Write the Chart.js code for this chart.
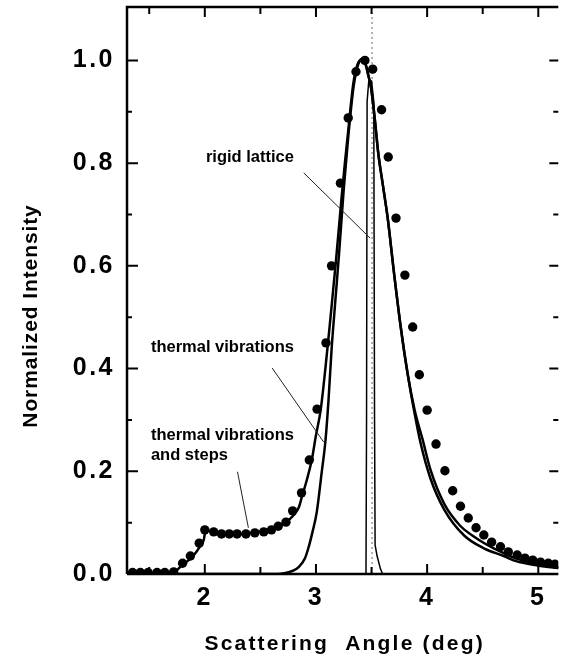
<!DOCTYPE html>
<html>
<head>
<meta charset="utf-8">
<style>
html,body{margin:0;padding:0;background:#fff;}
canvas{display:block;}
</style>
<script src="https://cdn.jsdelivr.net/npm/chart.js@4.4.1/dist/chart.umd.min.js"></script>
</head>
<body>
<canvas id="c" width="563" height="665"></canvas>
<script>
// ---- measured data (Scattering Angle in deg, Normalized Intensity) ----
const dotX = [1.35,1.42,1.49,1.57,1.64,1.72,1.80,1.87,1.95,2.00,2.08,2.15,2.22,2.29,2.37,2.45,2.53,2.60,2.66,2.73,2.79,2.87,2.94,3.01,3.09,3.14,3.22,3.29,3.36,3.44,3.51,3.59,3.65,3.72,3.80,3.87,3.93,4.00,4.08,4.16,4.23,4.30,4.37,4.44,4.51,4.58,4.66,4.73,4.81,4.88,4.95,5.02,5.09,5.15];
const dotY = [0.003,0.003,0.003,0.003,0.003,0.004,0.021,0.035,0.060,0.086,0.082,0.078,0.078,0.078,0.078,0.080,0.082,0.086,0.093,0.101,0.123,0.158,0.222,0.321,0.450,0.600,0.761,0.888,0.978,1.000,0.983,0.904,0.812,0.693,0.582,0.481,0.388,0.319,0.253,0.201,0.162,0.132,0.109,0.090,0.076,0.062,0.053,0.043,0.037,0.031,0.027,0.023,0.021,0.019];

// thermal vibrations and steps
const tvsX = [1.30,1.70,1.74,1.80,1.866,1.92,1.96,1.99,2.000,2.010,2.06,2.134,2.25,2.374,2.48,2.579,2.66,2.73,2.80,2.846,2.873,2.92,2.962,3.00,3.042,3.086,3.131,3.18,3.229,3.26,3.291,3.336,3.37,3.42,3.45,3.47,3.496,3.532,3.56,3.60,3.647,3.70,3.763,3.826,3.888,3.959,4.03,4.155,4.297,4.40,4.538,4.627,4.778,4.956,5.161,5.20];
const tvsY = [0.002,0.002,0.006,0.018,0.029,0.042,0.055,0.066,0.078,0.085,0.083,0.080,0.078,0.079,0.082,0.088,0.094,0.101,0.115,0.130,0.150,0.185,0.222,0.270,0.319,0.403,0.500,0.610,0.730,0.800,0.865,0.955,0.990,1.003,0.990,0.972,0.946,0.880,0.820,0.760,0.690,0.590,0.480,0.388,0.319,0.262,0.203,0.136,0.094,0.076,0.057,0.047,0.032,0.021,0.014,0.013];

// thermal vibrations
const tvX = [1.30,2.60,2.70,2.76,2.80,2.846,2.90,2.935,2.97,3.006,3.051,3.086,3.113,3.140,3.175,3.21,3.25,3.29,3.336,3.37,3.42,3.45,3.47,3.496,3.532,3.56,3.60,3.647,3.70,3.763,3.826,3.888,3.941,4.03,4.155,4.333,4.511,4.689,4.80,4.983,5.161,5.20];
const tvY = [0.000,0.000,0.001,0.004,0.007,0.014,0.030,0.053,0.083,0.119,0.197,0.261,0.339,0.436,0.534,0.630,0.750,0.850,0.945,0.985,1.003,0.990,0.972,0.946,0.880,0.820,0.760,0.690,0.590,0.480,0.388,0.312,0.255,0.186,0.125,0.075,0.050,0.035,0.025,0.017,0.012,0.011];

// rigid lattice
const rlX = [1.30,3.45,3.455,3.46,3.475,3.50,3.52,3.527,3.532,3.55,3.58,3.60,5.20];
const rlY = [0.000,0.000,0.300,0.920,0.960,0.960,0.920,0.300,0.056,0.035,0.010,0.000,0.000];

// axis ticks
const xTickValues = [2,3,4,5];
const xMinorTicks = [1.5,2.5,3.5,4.5];
const yTickValues = [0,0.2,0.4,0.6,0.8,1.0];
const yMinorTicks = [0.1,0.3,0.5,0.7,0.9];
const refLineX = 3.5;

const xTitle = 'Scattering  Angle (deg)';
const yTitle = 'Normalized Intensity';
const labels = [
  {text:'rigid lattice', x:2.01, y:0.803},
  {text:'thermal vibrations', x:1.515, y:0.432},
  {text:'thermal vibrations', x:1.515, y:0.261},
  {text:'and steps', x:1.515, y:0.222}
];
const leaders = [
  [2.890,0.781,3.487,0.654],
  [2.606,0.401,3.069,0.257],
  [2.294,0.199,2.392,0.090]
];

const zip = (xs,ys) => xs.map((v,i)=>({x:v,y:ys[i]}));
const FONT = "'Liberation Sans', Arial, Helvetica, sans-serif";

const framePlugin = {
  id:'frame',
  beforeDraw(chart){ chart.ctx.letterSpacing = '2.5px'; },
  beforeDatasetsDraw(chart){
    const {ctx, chartArea:a, scales:{x}} = chart;
    const px = x.getPixelForValue(refLineX);
    ctx.save();
    ctx.strokeStyle = '#666'; ctx.lineWidth = 1; ctx.setLineDash([2,3]);
    ctx.beginPath(); ctx.moveTo(px+0.5,a.top); ctx.lineTo(px+0.5,a.bottom); ctx.stroke();
    ctx.restore();
  },
  afterDraw(chart){
    const {ctx, chartArea:a, scales:{x,y}} = chart;
    ctx.save();
    ctx.letterSpacing = '0px';
    ctx.strokeStyle = '#000';
    // frame
    ctx.lineWidth = 2.5;
    ctx.beginPath();
    ctx.moveTo(a.left, a.bottom); ctx.lineTo(a.left, a.top); ctx.lineTo(a.right, a.top);
    ctx.moveTo(a.left, a.bottom); ctx.lineTo(a.right, a.bottom);
    ctx.stroke();
    // ticks
    ctx.lineWidth = 2;
    ctx.beginPath();
    const xt = (v,len)=>{ const p=x.getPixelForValue(v); ctx.moveTo(p,a.bottom); ctx.lineTo(p,a.bottom-len); ctx.moveTo(p,a.top); ctx.lineTo(p,a.top+len); };
    xTickValues.forEach(v=>xt(v,10));
    xMinorTicks.forEach(v=>xt(v,7));
    const yt = (v,lenL,lenR)=>{ const p=y.getPixelForValue(v); ctx.moveTo(a.left,p); ctx.lineTo(a.left+lenL,p); ctx.moveTo(a.right,p); ctx.lineTo(a.right-lenR,p); };
    yTickValues.filter(v=>v>0).forEach(v=>yt(v,11,9));
    yMinorTicks.forEach(v=>yt(v,5,5));
    ctx.stroke();
    // leaders
    ctx.strokeStyle = '#222'; ctx.lineWidth = 1;
    ctx.beginPath();
    leaders.forEach(l=>{ ctx.moveTo(x.getPixelForValue(l[0]), y.getPixelForValue(l[1])); ctx.lineTo(x.getPixelForValue(l[2]), y.getPixelForValue(l[3])); });
    ctx.stroke();
    // annotation text
    ctx.fillStyle = '#000';
    ctx.font = 'bold 16.5px ' + FONT;
    ctx.textAlign = 'left'; ctx.textBaseline = 'alphabetic';
    labels.forEach(t=>ctx.fillText(t.text, x.getPixelForValue(t.x), y.getPixelForValue(t.y)));
    // axis titles
    ctx.font = 'bold 21px ' + FONT;
    ctx.letterSpacing = '2.2px';
    ctx.textAlign = 'center';
    ctx.fillText(xTitle, (a.left+a.right)/2 + 2, 650);
    ctx.save();
    ctx.translate(31, 316);
    ctx.rotate(-Math.PI/2);
    ctx.letterSpacing = '0.9px';
    ctx.textBaseline = 'middle';
    ctx.fillText(yTitle, 0, 0);
    ctx.restore();
    ctx.restore();
  }
};

new Chart(document.getElementById('c'), {
  type:'scatter',
  data:{
    datasets:[
      {label:'data', data:zip(dotX,dotY), showLine:false, pointRadius:4.7, pointHoverRadius:4.7, pointBackgroundColor:'#000', pointBorderWidth:0, backgroundColor:'#000', borderColor:'#000', order:0},
      {label:'thermal vibrations and steps', data:zip(tvsX,tvsY), showLine:true, pointRadius:0, borderColor:'#000', borderWidth:2.5, cubicInterpolationMode:'monotone', order:1},
      {label:'thermal vibrations', data:zip(tvX,tvY), showLine:true, pointRadius:0, borderColor:'#000', borderWidth:2.5, cubicInterpolationMode:'monotone', order:2},
      {label:'rigid lattice', data:zip(rlX,rlY), showLine:true, pointRadius:0, borderColor:'#000', borderWidth:1.5, tension:0, order:3}
    ]
  },
  options:{
    responsive:false, animation:false, devicePixelRatio:1,
    layout:{padding:{top:7,right:0,left:0,bottom:0}},
    plugins:{legend:{display:false}, tooltip:{enabled:false}},
    scales:{
      x:{
        type:'linear', min:1.3, max:5.18,
        afterBuildTicks:s=>{ s.ticks = xTickValues.map(v=>({value:v})); },
        afterFit:s=>{ s.height = 91; s.paddingLeft = 0; s.paddingRight = 0; s.paddingTop = 0; s.paddingBottom = 0; },
        grid:{display:false, drawTicks:false}, border:{display:false},
        ticks:{color:'#000', font:{family:FONT, size:25, weight:'bold'}, padding:9, maxRotation:0, autoSkip:false, callback:v=>String(v)}
      },
      y:{
        type:'linear', min:0, max:1.104,
        afterBuildTicks:s=>{ s.ticks = yTickValues.map(v=>({value:v})); },
        afterFit:s=>{ s.width = 127; s.paddingTop = 0; s.paddingBottom = 0; s.paddingLeft = 0; s.paddingRight = 0; },
        grid:{display:false, drawTicks:false}, border:{display:false},
        ticks:{color:'#000', font:{family:FONT, size:25, weight:'bold'}, padding:12, autoSkip:false, callback:v=>Number(v).toFixed(1)}
      }
    }
  },
  plugins:[framePlugin]
});
</script>
</body>
</html>
